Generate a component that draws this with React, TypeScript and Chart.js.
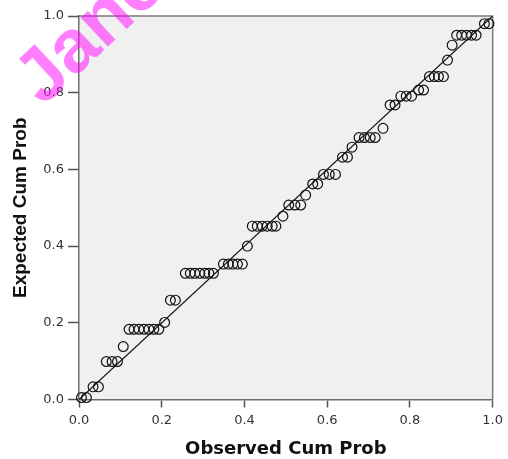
import React, { useEffect, useRef } from "react";
import { Chart, registerables } from "chart.js";

Chart.register(...registerables);

// ---- data ----
const observedCumProb: number[] = [
  0.006, 0.018,
  0.034, 0.047,
  0.066, 0.080, 0.093,
  0.107,
  0.121, 0.133, 0.145, 0.157, 0.169, 0.181, 0.193,
  0.207,
  0.221, 0.233,
  0.257, 0.269, 0.280, 0.292, 0.304, 0.314, 0.325,
  0.349, 0.361, 0.372, 0.383, 0.395,
  0.407,
  0.419, 0.431, 0.443, 0.455, 0.467, 0.476,
  0.493,
  0.507, 0.522, 0.536,
  0.548,
  0.565, 0.577,
  0.591, 0.605, 0.620,
  0.637, 0.649,
  0.660,
  0.677, 0.690, 0.704, 0.716,
  0.735,
  0.752, 0.764,
  0.778, 0.791, 0.804,
  0.821, 0.833,
  0.847, 0.859, 0.869, 0.881,
  0.891,
  0.902,
  0.913, 0.925, 0.937, 0.949, 0.960,
  0.980, 0.991,
];

const expectedCumProb: number[] = [
  0.005, 0.005,
  0.033, 0.033,
  0.099, 0.099, 0.099,
  0.138,
  0.183, 0.183, 0.183, 0.183, 0.183, 0.183, 0.183,
  0.201,
  0.259, 0.259,
  0.329, 0.329, 0.329, 0.329, 0.329, 0.329, 0.329,
  0.353, 0.353, 0.353, 0.353, 0.353,
  0.400,
  0.452, 0.452, 0.452, 0.452, 0.452, 0.452,
  0.478,
  0.507, 0.507, 0.507,
  0.533,
  0.562, 0.562,
  0.587, 0.587, 0.587,
  0.632, 0.632,
  0.658,
  0.683, 0.683, 0.683, 0.683,
  0.707,
  0.768, 0.768,
  0.791, 0.791, 0.791,
  0.807, 0.807,
  0.842, 0.842, 0.842, 0.842,
  0.885,
  0.924,
  0.950, 0.950, 0.950, 0.950, 0.950,
  0.980, 0.980,
];

const referenceLineX: number[] = [0, 1];
const referenceLineY: number[] = [0, 1];
const tickValues: number[] = [0, 0.2, 0.4, 0.6, 0.8, 1.0];
const tickLabels: string[] = ["0.0", "0.2", "0.4", "0.6", "0.8", "1.0"];
const xTitle = "Observed Cum Prob";
const yTitle = "Expected Cum Prob";
const watermarkText = "Jane";

const W = 508;
const H = 459;

export default function App() {
  const ref = useRef<HTMLCanvasElement | null>(null);

  useEffect(() => {
    const canvas = ref.current;
    if (!canvas) return;

    const framePlugin = {
      id: "frame",
      beforeDraw(chart: any) {
        const { ctx, chartArea } = chart;
        const { left, top, right, bottom } = chartArea;
        ctx.save();
        ctx.fillStyle = "#f0f0f0";
        ctx.fillRect(left, top, right - left, bottom - top);
        ctx.strokeStyle = "#7a7a7a";
        ctx.lineWidth = 1.5;
        ctx.beginPath();
        ctx.moveTo(left, top);
        ctx.lineTo(right, top);
        ctx.lineTo(right, bottom);
        ctx.stroke();
        ctx.restore();
      },
    };

    const watermarkPlugin = {
      id: "watermark",
      afterDraw(chart: any) {
        const { ctx } = chart;
        ctx.save();
        ctx.translate(43, 107);
        ctx.rotate((-43 * Math.PI) / 180);
        ctx.font = 'bold 75px "Liberation Sans", Arial, sans-serif';
        ctx.fillStyle = "rgba(255, 0, 255, 0.5)";
        ctx.textBaseline = "alphabetic";
        ctx.fillText(watermarkText, 0, 0);
        ctx.restore();
      },
    };

    const tickFont = { family: '"DejaVu Sans", sans-serif', size: 13 };

    const chart = new Chart(canvas, {
      type: "scatter",
      data: {
        datasets: [
          {
            type: "line",
            data: referenceLineX.map((x, i) => ({ x, y: referenceLineY[i] })),
            borderColor: "#111",
            borderWidth: 1.2,
            pointRadius: 0,
            fill: false,
            order: 2,
          } as any,
          {
            type: "scatter",
            data: observedCumProb.map((x, i) => ({ x, y: expectedCumProb[i] })),
            pointStyle: "circle",
            pointRadius: 4.9,
            pointBorderWidth: 1.2,
            borderColor: "#111",
            backgroundColor: "rgba(0,0,0,0)",
            pointBackgroundColor: "rgba(0,0,0,0)",
            pointBorderColor: "#111",
            clip: false,
            order: 1,
          } as any,
        ],
      },
      options: {
        animation: false,
        responsive: false,
        devicePixelRatio: 1,
        events: [],
        layout: { padding: { left: 0, right: 11.5, top: 16, bottom: 0 } },
        plugins: {
          legend: { display: false },
          tooltip: { enabled: false },
        },
        scales: {
          x: {
            type: "linear",
            min: 0,
            max: 1,
            afterFit(scale: any) {
              scale.height = 59.5;
            },
            afterBuildTicks(scale: any) {
              scale.ticks = tickValues.map((v) => ({ value: v }));
            },
            ticks: {
              font: tickFont,
              color: "#333",
              padding: 5,
              maxRotation: 0,
              autoSkip: false,
              callback: (_v: any, i: number) => tickLabels[i],
            },
            grid: {
              drawOnChartArea: false,
              drawTicks: true,
              tickLength: 8,
              tickColor: "#555",
              tickWidth: 1.5,
            },
            border: { display: true, color: "#6e6e6e", width: 1.5 },
            title: {
              display: true,
              text: xTitle,
              color: "#111",
              font: { family: '"DejaVu Sans", sans-serif', size: 18, weight: "bold", lineHeight: 1 },
              padding: { top: 0, bottom: 0.5 },
            },
          },
          y: {
            type: "linear",
            min: 0,
            max: 1,
            afterFit(scale: any) {
              scale.width = 79;
            },
            afterBuildTicks(scale: any) {
              scale.ticks = tickValues.map((v) => ({ value: v }));
            },
            ticks: {
              font: tickFont,
              color: "#333",
              padding: 4,
              autoSkip: false,
              callback: (_v: any, i: number) => tickLabels[i],
            },
            grid: {
              drawOnChartArea: false,
              drawTicks: true,
              tickLength: 11,
              tickColor: "#555",
              tickWidth: 1.5,
            },
            border: { display: true, color: "#6e6e6e", width: 1.5 },
            title: {
              display: true,
              text: yTitle,
              color: "#111",
              font: { family: '"Liberation Sans", Arial, sans-serif', size: 19, weight: "bold", lineHeight: 1 },
              padding: { top: 11, bottom: 0 },
            },
          },
        },
      } as any,
      plugins: [framePlugin, watermarkPlugin],
    });

    return () => chart.destroy();
  }, []);

  return (
    <div
      style={{
        position: "fixed",
        left: 0,
        top: 0,
        width: W,
        height: H,
        background: "#ffffff",
      }}
    >
      <canvas ref={ref} width={W} height={H} style={{ width: W, height: H, display: "block" }} />
    </div>
  );
}
